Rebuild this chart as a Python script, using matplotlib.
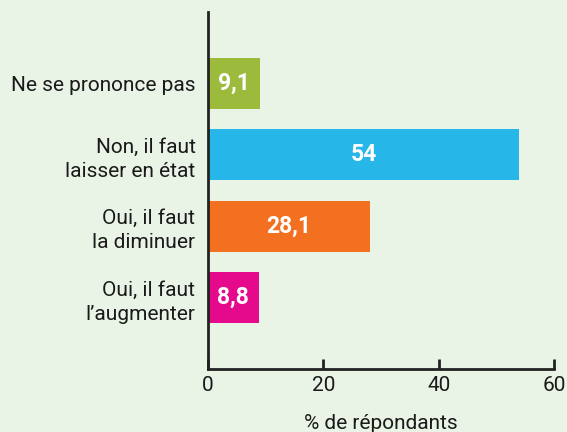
import matplotlib.pyplot as plt

# Données du graphique
categories = ["Oui, il faut\nl\u2019augmenter", "Oui, il faut\nla diminuer",
              "Non, il faut\nlaisser en état", "Ne se prononce pas"]
valeurs = [8.8, 28.1, 54, 9.1]
etiquettes = ["8,8", "28,1", "54", "9,1"]
couleurs = ["#e5098b", "#f37021", "#27b6e8", "#9cba3c"]
ticks_x = [0, 20, 40, 60]

fond = "#e9f4e6"
plt.rcParams['font.family'] = ['Roboto', 'DejaVu Sans']

fig = plt.figure(figsize=(5.67, 4.32), dpi=100, facecolor=fond)
ax = fig.add_axes([208 / 567, 63 / 432, 346 / 567, 357 / 432], facecolor=fond)

pos = range(len(categories))
ax.barh(pos, valeurs, height=0.71, color=couleurs)

for p, v, t in zip(pos, valeurs, etiquettes):
    ax.text(v / 2, p, t, ha="center", va="center", color="white",
            fontsize=16.5, fontweight="bold")

ax.set_xlim(0, 60)
ax.set_ylim(-1, 4)
ax.set_xticks(ticks_x)
ax.set_yticks(list(pos))
ax.set_yticklabels(categories, fontsize=15, color="#1a1a1a", linespacing=1.35)
ax.tick_params(axis="y", length=0, pad=9)
ax.tick_params(axis="x", direction="in", length=7, width=2, color="#222222",
               labelsize=15, labelcolor="#1a1a1a", pad=5)

for s in ["top", "right"]:
    ax.spines[s].set_visible(False)
for s in ["left", "bottom"]:
    ax.spines[s].set_linewidth(2)
    ax.spines[s].set_color("#222222")

ax.set_xlabel("% de répondants", fontsize=15, color="#1a1a1a", labelpad=14)

fig.savefig("out.png", dpi=100, facecolor=fond)
